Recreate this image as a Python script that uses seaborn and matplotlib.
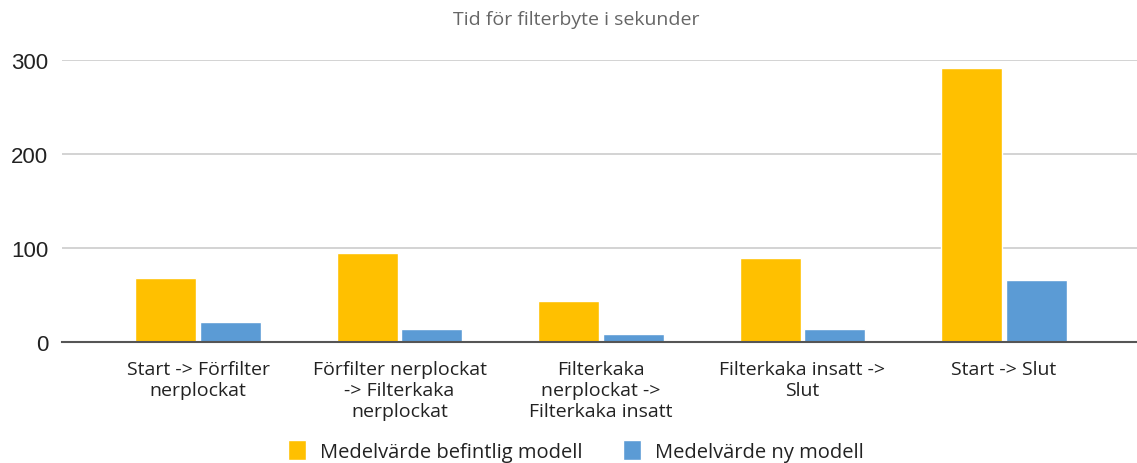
import pandas as pd
import matplotlib.pyplot as plt
import seaborn as sns

categories = ['Start -> Förfilter\nnerplockat',
              'Förfilter nerplockat\n-> Filterkaka\nnerplockat',
              'Filterkaka\nnerplockat ->\nFilterkaka insatt',
              'Filterkaka insatt ->\nSlut',
              'Start -> Slut']
befintlig = [68, 95, 44, 89, 291]
ny = [21, 14, 9, 14, 66]
series_names = ['Medelvärde befintlig modell', 'Medelvärde ny modell']
colors = ['#FFC000', '#5B9BD5']

df = pd.DataFrame({
    'kategori': categories * 2,
    'serie': [series_names[0]] * 5 + [series_names[1]] * 5,
    'varde': befintlig + ny,
})

sns.set_style('white')
plt.rcParams['font.family'] = ['Open Sans', 'DejaVu Sans']

fig = plt.figure(figsize=(11.37, 4.64), dpi=100)
ax = fig.add_axes([62 / 1137, 1 - 343 / 464, 1 - 62 / 1137, (343 - 61) / 464])

sns.barplot(data=df, x='kategori', y='varde', hue='serie', palette=colors,
            width=0.64, gap=0.05, ax=ax, legend=True, saturation=1)

ax.set_ylim(0, 300)
ax.set_xlim(-0.675, 4.66)
ax.set_yticks([0, 100, 200, 300])
ax.set_yticklabels(['0', '100', '200', '300'], fontsize=16, color='#222222',
                   family='Liberation Sans')
ax.tick_params(axis='y', length=0, pad=10)
ax.set_xticks(range(len(categories)))
ax.set_xticklabels(categories, fontsize=14, color='#222222', linespacing=1.2)
ax.tick_params(axis='x', length=0, pad=13)
ax.grid(axis='y', color='#cccccc', linewidth=1.2)
ax.set_axisbelow(True)
for s in ['top', 'right', 'left']:
    ax.spines[s].set_visible(False)
ax.spines['bottom'].set_color('#555555')
ax.spines['bottom'].set_linewidth(1.5)
ax.set_xlabel('')
ax.set_ylabel('')

fig.text(0.507, 1 - 20 / 464, 'Tid för filterbyte i sekunder', ha='center', va='center',
         fontsize=14, color='#666666')

ax.legend(loc='center', bbox_to_anchor=(0.478, -(452 - 343) / 282),
          ncol=2, frameon=False, fontsize=14.5, handlelength=0.9, handleheight=1.15,
          columnspacing=2.0, handletextpad=0.7, labelcolor='#222222')

fig.savefig('out.png', dpi=100)
